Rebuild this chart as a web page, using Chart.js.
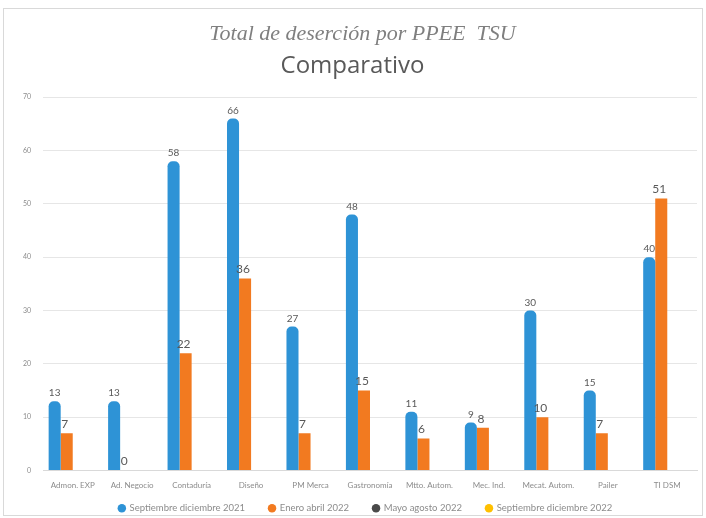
<!DOCTYPE html>
<html>
<head>
<meta charset="utf-8">
<script src="https://cdn.jsdelivr.net/npm/chart.js@4/dist/chart.umd.min.js"></script>
<style>
html,body{margin:0;padding:0;background:#fff;}
canvas{display:block;}
</style>
</head>
<body>
<canvas id="c" width="706" height="518"></canvas>
<script>
const categories = ["Admon. EXP", "Ad. Negocio", "Contaduría", "Diseño", "PM Merca", "Gastronomía", "Mtto. Autom.", "Mec. Ind.", "Mecat. Autom.", "Pailer", "TI DSM"];
const sepDic2021 = [13, 13, 58, 66, 27, 48, 11, 9, 30, 15, 40];
const eneAbr2022 = [7, 0, 22, 36, 7, 15, 6, 8, 10, 7, 51];
const mayAgo2022 = [];
const sepDic2022 = [];
const seriesNames = ["Septiembre diciembre 2021", "Enero abril 2022", "Mayo agosto 2022", "Septiembre diciembre 2022"];
const yTicks = [0, 10, 20, 30, 40, 50, 60, 70];

const frame = {
  id: 'frame',
  beforeDraw(chart) {
    const ctx = chart.ctx;
    ctx.save();
    ctx.fillStyle = '#fff';
    ctx.fillRect(0, 0, chart.width, chart.height);
    ctx.strokeStyle = '#d9d9d9';
    ctx.lineWidth = 1;
    ctx.strokeRect(3.5, 8.5, chart.width - 7, chart.height - 11);
    ctx.restore();
  }
};

const legendShift = {
  id: 'legendShift',
  afterLayout(chart) {
    if (chart.legend) {
      chart.legend.top -= 13;
      chart.legend.bottom -= 13;
      chart.legend.left += 13;
      chart.legend.right += 13;
    }
    if (chart.titleBlock) {
      chart.titleBlock.left += 10;
      chart.titleBlock.right += 10;
    }
  }
};

const valueLabels = {
  id: 'valueLabels',
  afterDatasetsDraw(chart) {
    const ctx = chart.ctx;
    chart.data.datasets.forEach((ds, i) => {
      const meta = chart.getDatasetMeta(i);
      if (meta.hidden) return;
      meta.data.forEach((el, j) => {
        const v = ds.data[j];
        if (v === null || v === undefined) return;
        ctx.save();
        ctx.font = (i === 1 ? '12px' : '10px') + ' Lato, "Open Sans", sans-serif';
        ctx.fillStyle = '#595959';
        ctx.textAlign = 'center';
        ctx.textBaseline = 'bottom';
        ctx.fillText(String(v), el.x - (i === 1 ? 2 : 0), el.y - 3);
        ctx.restore();
      });
    });
  }
};

new Chart(document.getElementById('c'), {
  type: 'bar',
  data: {
    labels: categories,
    datasets: [
      { label: seriesNames[0], data: sepDic2021, backgroundColor: '#2E93D6', borderRadius: {topLeft: 5, topRight: 5}, borderSkipped: 'bottom' },
      { label: seriesNames[1], data: eneAbr2022, backgroundColor: '#F27A20' },
      { label: seriesNames[2], data: mayAgo2022, backgroundColor: '#4a4a4a' },
      { label: seriesNames[3], data: sepDic2022, backgroundColor: '#FFC000' }
    ]
  },
  options: {
    responsive: false,
    animation: false,
    devicePixelRatio: 1,
    layout: { padding: { left: 8, right: 9, top: 14, bottom: -18 } },
    datasets: { bar: { categoryPercentage: 0.81, barPercentage: 1.0 } },
    plugins: {
      title: {
        display: true,
        text: 'Total de deserción por PPEE  TSU',
        color: '#7f7f7f',
        font: { family: '"Liberation Serif", "DejaVu Serif", serif', style: 'italic', size: 22, weight: 'normal' },
        padding: { top: 7, bottom: 2 }
      },
      subtitle: {
        display: true,
        text: 'Comparativo',
        color: '#595959',
        font: { family: '"Open Sans", Lato, sans-serif', size: 24, weight: 'normal' },
        padding: { top: 2, bottom: 17 }
      },
      legend: {
        position: 'bottom',
        labels: {
          usePointStyle: true,
          pointStyle: 'circle',
          boxWidth: 6,
          boxHeight: 6,
          padding: 24,
          color: '#8c8c8c',
          font: { family: 'Lato, "Open Sans", sans-serif', size: 9.5 }
        }
      },
      tooltip: { enabled: false }
    },
    scales: {
      x: {
        afterFit(scale) { scale.height = 22; },
        grid: { display: false },
        border: { display: true, color: '#d9d9d9' },
        ticks: { color: '#8c8c8c', font: { family: 'Lato, sans-serif', size: 8 }, maxRotation: 0, autoSkip: false, padding: 2 }
      },
      y: {
        min: 0,
        max: 70,
        afterBuildTicks(scale) { scale.ticks = yTicks.map(v => ({ value: v })); },
        afterFit(scale) { scale.width = 35; },
        grid: { color: '#e6e6e6', drawTicks: false },
        border: { display: false },
        ticks: { color: '#8c8c8c', font: { family: 'Lato, sans-serif', size: 7 }, padding: 12 }
      }
    }
  },
  plugins: [frame, legendShift, valueLabels]
});
</script>
</body>
</html>
